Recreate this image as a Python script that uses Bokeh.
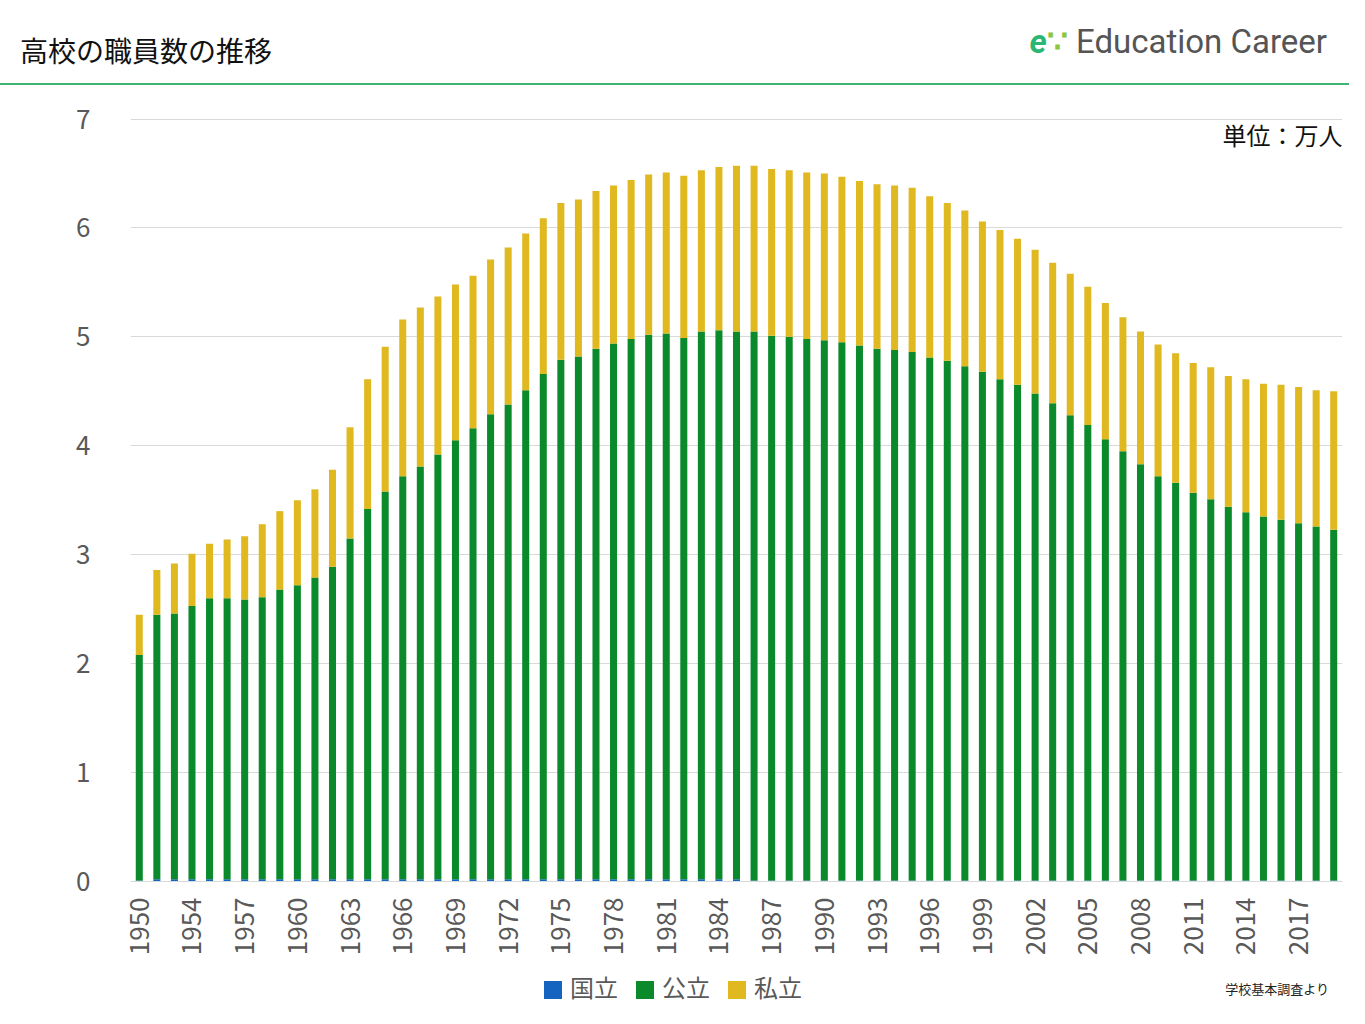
from bokeh.plotting import figure
from bokeh.models import Div, Label, Range1d, FixedTicker, ColumnDataSource
from bokeh.layouts import column
from bokeh.embed import file_html
from bokeh.resources import INLINE
import math

years = [1950] + list(range(1952, 2020))
total = [2.45,2.86,2.92,3.01,3.10,3.14,3.17,3.28,3.40,3.50,3.60,3.78,4.17,4.61,4.91,5.16,5.27,5.37,5.48,5.56,
         5.71,5.82,5.95,6.09,6.23,6.26,6.34,6.39,6.44,6.49,6.51,6.48,6.53,6.56,6.57,6.57,6.54,6.53,6.51,6.50,
         6.47,6.43,6.40,6.39,6.37,6.29,6.23,6.16,6.06,5.98,5.90,5.80,5.68,5.58,5.46,5.31,5.18,5.05,4.93,4.85,
         4.76,4.72,4.64,4.61,4.57,4.56,4.54,4.51,4.50]
pub_incl = [2.08,2.45,2.46,2.53,2.60,2.60,2.59,2.61,2.68,2.72,2.79,2.89,3.15,3.42,3.58,3.72,3.81,3.92,4.05,4.16,
            4.29,4.38,4.51,4.66,4.79,4.82,4.89,4.94,4.98,5.02,5.03,4.99,5.05,5.06,5.05,5.05,5.01,5.00,4.98,4.97,
            4.95,4.92,4.89,4.88,4.86,4.81,4.78,4.73,4.68,4.61,4.56,4.48,4.39,4.28,4.19,4.06,3.95,3.83,3.72,3.66,
            3.57,3.51,3.44,3.39,3.35,3.32,3.29,3.26,3.23]
national = [0.02 if 1952 <= y <= 1985 else 0.01 for y in years]
public = [round(g - n, 3) for g, n in zip(pub_incl, national)]
private = [round(t - g, 3) for t, g in zip(total, pub_incl)]
series_names = ["国立", "公立", "私立"]
colors = ["#1565c0", "#0a8a2a", "#e0b820"]
idx = list(range(len(years)))
tick_idx = idx[::3]

FONT = "Noto Sans CJK JP"
src = ColumnDataSource(dict(x=idx, nat=national, pub=public, pri=private))

header = Div(text=f"""
<div style="position:relative;width:1349px;height:92px;font-family:'{FONT}';">
 <div style="position:absolute;left:20px;top:30px;font-size:28px;color:#111;">高校の職員数の推移</div>
 <div style="position:absolute;right:22px;top:18px;font-size:33px;color:#555;font-family:'Roboto';">
  <span style="color:#2bb673;font-weight:bold;font-style:italic;">e</span><span style="color:#8cc63f;font-weight:bold;">∵</span>&nbsp;Education Career</div>
 <div style="position:absolute;left:0;top:83px;width:1349px;height:2px;background:#3cb371;"></div>
</div>""", width=1349, height=92, margin=(0, 0, 0, 0))

p = figure(x_range=Range1d(-0.5, len(years) - 0.5), y_range=Range1d(0, 7.17),
           width=1349, height=884, output_backend="svg", toolbar_location=None,
           min_border_left=130, min_border_right=7, min_border_top=8, min_border_bottom=95,
           outline_line_color=None, margin=(0, 0, 0, 0))
p.vbar_stack(["nat", "pub", "pri"], x="x", width=0.4, source=src, color=colors, line_color=None)
p.xgrid.visible = False
p.ygrid.grid_line_color = "#d9d9d9"
p.yaxis.ticker = FixedTicker(ticks=list(range(0, 8)))
p.xaxis.ticker = FixedTicker(ticks=tick_idx)
p.xaxis.major_label_overrides = {i: str(years[i]) for i in tick_idx}
for ax in (p.xaxis, p.yaxis):
    ax.axis_line_color = None
    ax.major_tick_line_color = None
    ax.minor_tick_line_color = None
    ax.major_label_text_font = FONT
    ax.major_label_text_color = "#595959"
    ax.major_label_text_font_size = "26px"
p.xaxis.axis_line_color = "#d9d9d9"
p.yaxis.major_label_standoff = 34
p.xaxis.major_label_standoff = 10
p.xaxis.major_label_orientation = math.pi / 2
p.add_layout(Label(x=len(years) - 0.5, y=7.02, text="単位：万人", text_align="right", text_baseline="top",
                   text_font=FONT, text_font_size="24px", text_color="#111"))

items = "".join(
    f'<span style="display:inline-block;width:18px;height:18px;background:{c};margin:0 8px 0 18px;vertical-align:-2px;"></span>{n}'
    for n, c in zip(series_names, colors))
footer = Div(text=f"""
<div style="position:relative;width:1349px;height:34px;font-family:'{FONT}';">
 <div style="position:absolute;left:526px;top:-6px;font-size:24px;color:#595959;white-space:nowrap;">{items}</div>
 <div style="position:absolute;right:20px;top:4px;font-size:13px;color:#222;">学校基本調査より</div>
</div>""", width=1349, height=34, margin=(0, 0, 0, 0))

open("out.html", "w").write(file_html(column(header, p, footer, spacing=0), INLINE))
